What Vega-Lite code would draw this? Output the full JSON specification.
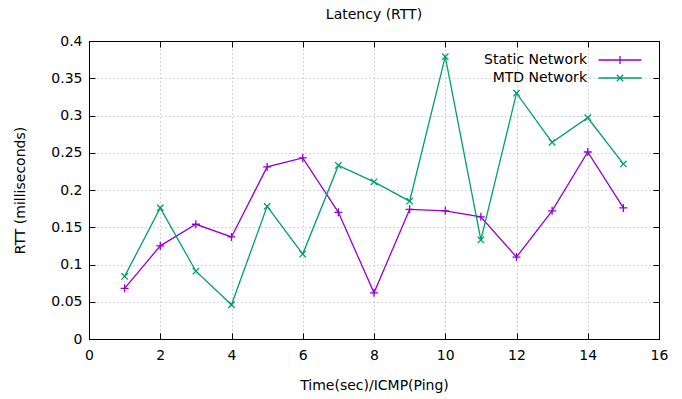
{
  "$schema": "https://vega.github.io/schema/vega-lite/v6.json",
  "width": 570,
  "height": 298,
  "autosize": {"type": "none"},
  "padding": {"left": 89, "top": 41, "right": 23, "bottom": 60},
  "background": "white",
  "title": {"text": "Latency (RTT)", "fontSize": 14, "fontWeight": "normal", "font": "DejaVu Sans", "color": "#000000", "offset": 12, "anchor": "middle"},
  "config": {
    "view": {"stroke": "#000000", "strokeWidth": 1},
    "font": "DejaVu Sans",
    "axis": {"labelFont": "DejaVu Sans", "titleFont": "DejaVu Sans", "labelFontSize": 14, "titleFontSize": 14, "titleFontWeight": "normal", "labelColor": "#000000", "titleColor": "#000000", "domainColor": "#000000", "tickColor": "#000000", "gridColor": "#a8a8a8", "gridDash": [1, 3], "gridWidth": 1}
  },
  "data": {
    "values": [
      {"t": 1, "series": "Static Network", "rtt": 0.068},
      {"t": 2, "series": "Static Network", "rtt": 0.125},
      {"t": 3, "series": "Static Network", "rtt": 0.154},
      {"t": 4, "series": "Static Network", "rtt": 0.137},
      {"t": 5, "series": "Static Network", "rtt": 0.231},
      {"t": 6, "series": "Static Network", "rtt": 0.243},
      {"t": 7, "series": "Static Network", "rtt": 0.170},
      {"t": 8, "series": "Static Network", "rtt": 0.062},
      {"t": 9, "series": "Static Network", "rtt": 0.174},
      {"t": 10, "series": "Static Network", "rtt": 0.172},
      {"t": 11, "series": "Static Network", "rtt": 0.164},
      {"t": 12, "series": "Static Network", "rtt": 0.110},
      {"t": 13, "series": "Static Network", "rtt": 0.172},
      {"t": 14, "series": "Static Network", "rtt": 0.251},
      {"t": 15, "series": "Static Network", "rtt": 0.176},
      {"t": 1, "series": "MTD Network", "rtt": 0.084},
      {"t": 2, "series": "MTD Network", "rtt": 0.176},
      {"t": 3, "series": "MTD Network", "rtt": 0.091},
      {"t": 4, "series": "MTD Network", "rtt": 0.046},
      {"t": 5, "series": "MTD Network", "rtt": 0.178},
      {"t": 6, "series": "MTD Network", "rtt": 0.114},
      {"t": 7, "series": "MTD Network", "rtt": 0.233},
      {"t": 8, "series": "MTD Network", "rtt": 0.211},
      {"t": 9, "series": "MTD Network", "rtt": 0.185},
      {"t": 10, "series": "MTD Network", "rtt": 0.379},
      {"t": 11, "series": "MTD Network", "rtt": 0.133},
      {"t": 12, "series": "MTD Network", "rtt": 0.330},
      {"t": 13, "series": "MTD Network", "rtt": 0.264},
      {"t": 14, "series": "MTD Network", "rtt": 0.297},
      {"t": 15, "series": "MTD Network", "rtt": 0.235}
    ]
  },
  "layer": [
    {
      "mark": {"type": "line", "strokeWidth": 1.3},
      "encoding": {
        "x": {"field": "t", "type": "quantitative", "scale": {"domain": [0, 16], "nice": false, "zero": false},
          "axis": {"orient": "bottom", "values": [0, 2, 4, 6, 8, 10, 12, 14, 16], "grid": true, "tickSize": -6, "labelPadding": 15, "labelFlush": false, "title": "Time(sec)/ICMP(Ping)", "titleX": 285, "titleY": 46, "titleBaseline": "middle", "titleAlign": "center"}},
        "y": {"field": "rtt", "type": "quantitative", "scale": {"domain": [0, 0.4], "nice": false},
          "axis": {"orient": "left", "values": [0, 0.05, 0.1, 0.15, 0.2, 0.25, 0.3, 0.35, 0.4], "format": ".2~f", "grid": true, "tickSize": -6, "labelPadding": 13, "labelFlush": false, "title": "RTT (milliseconds)", "titleX": -69, "titleY": 149, "titleBaseline": "middle", "titleAlign": "center", "titleAngle": -90}},
        "color": {"field": "series", "type": "nominal",
          "scale": {"domain": ["Static Network", "MTD Network"], "range": ["#9400d3", "#009e73"]},
          "legend": {"orient": "none", "legendX": 524, "legendY": 12, "title": null, "padding": 0, "symbolSize": 64, "symbolStrokeWidth": 1.3, "labelAlign": "right", "labelOffset": -40, "labelFontSize": 14, "labelColor": "#000000", "labelFont": "DejaVu Sans", "labelLimit": 300, "rowPadding": 4,
            "encode": {"symbols": {"update": {"shape": {"signal": "datum.value === 'Static Network' ? 'M-5.375,0L5.375,0M0,-1L0,1' : 'M-5.375,0L5.375,0M-0.8,-0.8L0.8,0.8M-0.8,0.8L0.8,-0.8'"}, "fill": {"value": "transparent"}}}}}}
      }
    },
    {
      "transform": [{"filter": "datum.series === 'Static Network'"}],
      "mark": {"type": "point", "filled": false, "size": 64, "strokeWidth": 1.3, "opacity": 1, "color": "#9400d3", "shape": "M-1,0L1,0M0,-1L0,1"},
      "encoding": {
        "x": {"field": "t", "type": "quantitative", "scale": {"domain": [0, 16], "nice": false, "zero": false},
          "axis": {"orient": "top", "values": [0, 2, 4, 6, 8, 10, 12, 14, 16], "grid": false, "labels": false, "tickSize": -6, "title": null}},
        "y": {"field": "rtt", "type": "quantitative", "scale": {"domain": [0, 0.4], "nice": false},
          "axis": {"orient": "right", "values": [0, 0.05, 0.1, 0.15, 0.2, 0.25, 0.3, 0.35, 0.4], "grid": false, "labels": false, "tickSize": -6, "title": null}}
      }
    },
    {
      "transform": [{"filter": "datum.series === 'MTD Network'"}],
      "mark": {"type": "point", "filled": false, "size": 64, "strokeWidth": 1.3, "opacity": 1, "color": "#009e73", "shape": "M-0.8,-0.8L0.8,0.8M-0.8,0.8L0.8,-0.8"},
      "encoding": {
        "x": {"field": "t", "type": "quantitative", "scale": {"domain": [0, 16], "nice": false, "zero": false}, "axis": null},
        "y": {"field": "rtt", "type": "quantitative", "scale": {"domain": [0, 0.4], "nice": false}, "axis": null}
      }
    }
  ],
  "resolve": {"axis": {"x": "independent", "y": "independent"}}
}
